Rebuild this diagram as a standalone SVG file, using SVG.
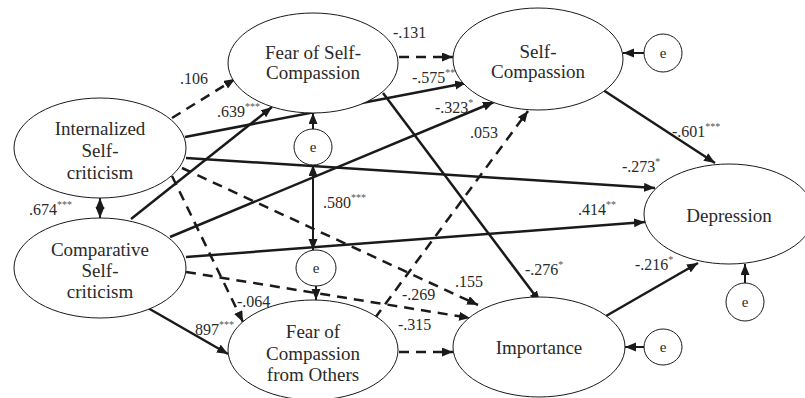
<svg xmlns="http://www.w3.org/2000/svg" width="805" height="398" viewBox="0 0 805 398">
<defs>
<marker id="ah" markerUnits="userSpaceOnUse" markerWidth="12" markerHeight="10" refX="11" refY="4.5" orient="auto-start-reverse">
<path d="M0,0 L11,4.5 L0,9 z" fill="#1a1a1a"/>
</marker>
</defs>
<style>
.node ellipse{fill:#fff;stroke:#1a1a1a;stroke-width:1}
text{font-family:'Liberation Serif',Tinos,'Times New Roman','Nimbus Roman','DejaVu Serif',serif;fill:#2a2a2a}
.nt{font-size:19px;text-anchor:middle}
.et{font-size:15px;text-anchor:middle}
.lb{font-size:16px}
.sup{font-size:10px;fill:#555}
.c line{stroke:#1a1a1a;stroke-width:2.5;marker-end:url(#ah)}
.c line.d{stroke-dasharray:10 7}
.c line.s{stroke-width:2}
</style>
<rect width="805" height="398" fill="#fff"/>
<g id="connectors" class="c">
<line class="d" x1="172" y1="118" x2="235" y2="79"/>
<line x1="185" y1="137" x2="466" y2="83"/>
<line x1="186" y1="158" x2="655" y2="188"/>
<line class="d" x1="182" y1="168" x2="478" y2="305"/>
<line class="d" x1="172" y1="176" x2="243" y2="322"/>
<line x1="131" y1="219" x2="272" y2="107"/>
<line x1="170" y1="237" x2="494" y2="102"/>
<line x1="186" y1="257" x2="645" y2="222"/>
<line class="d" x1="186" y1="272" x2="470" y2="318"/>
<line x1="148" y1="308" x2="228" y2="354"/>
<line class="d" x1="399" y1="57" x2="453" y2="57"/>
<line x1="383" y1="93" x2="540" y2="302"/>
<line class="d" x1="375" y1="318" x2="528" y2="111"/>
<line class="d" x1="399" y1="352" x2="453" y2="352"/>
<line x1="600" y1="88" x2="715" y2="163"/>
<line x1="606" y1="316" x2="698" y2="263"/>
<line class="s" x1="644" y1="53" x2="623" y2="53"/>
<line class="s" x1="313" y1="129" x2="313" y2="113"/>
<line class="s" x1="313" y1="165" x2="313" y2="250" marker-start="url(#ah)"/>
<line class="s" x1="316" y1="286" x2="316" y2="300"/>
<line class="s" x1="644" y1="347" x2="625" y2="347"/>
<line class="s" x1="745" y1="283" x2="745" y2="264"/>
<line class="s" x1="100" y1="198" x2="100" y2="218" marker-start="url(#ah)"/>
</g>
<g id="labels">
<text class="lb" x="180" y="84">.106</text>
<text class="lb" x="412" y="83">-.575<tspan class="sup" dy="-7">***</tspan></text>
<text class="lb" x="622" y="172">-.273<tspan class="sup" dy="-7">*</tspan></text>
<text class="lb" x="455" y="287">.155</text>
<text class="lb" x="237" y="307">-.064</text>
<text class="lb" x="217" y="117">.639<tspan class="sup" dy="-7">***</tspan></text>
<text class="lb" x="435" y="113">-.323<tspan class="sup" dy="-7">*</tspan></text>
<text class="lb" x="578" y="215">.414<tspan class="sup" dy="-7">**</tspan></text>
<text class="lb" x="402" y="300">-.269</text>
<text class="lb" x="195" y="335">897<tspan class="sup" dy="-7">***</tspan></text>
<text class="lb" x="393" y="38">-.131</text>
<text class="lb" x="525" y="275">-.276<tspan class="sup" dy="-7">*</tspan></text>
<text class="lb" x="470" y="138">.053</text>
<text class="lb" x="398" y="330">-.315</text>
<text class="lb" x="672" y="137">-.601<tspan class="sup" dy="-7">***</tspan></text>
<text class="lb" x="635" y="270">-.216<tspan class="sup" dy="-7">*</tspan></text>
<text class="lb" x="323" y="208">.580<tspan class="sup" dy="-7">***</tspan></text>
<text class="lb" x="29" y="215">.674<tspan class="sup" dy="-7">***</tspan></text>
</g>
<g id="internalized" class="node">
<ellipse cx="100" cy="148" rx="86" ry="50"/>
<text class="nt" x="100" y="135">Internalized</text>
<text class="nt" x="100" y="157">Self-</text>
<text class="nt" x="100" y="179">criticism</text>
</g>
<g id="comparative" class="node">
<ellipse cx="100" cy="268" rx="86" ry="50"/>
<text class="nt" x="100" y="256">Comparative</text>
<text class="nt" x="100" y="277">Self-</text>
<text class="nt" x="100" y="298">criticism</text>
</g>
<g id="fear-self" class="node">
<ellipse cx="313" cy="63" rx="85" ry="50"/>
<text class="nt" x="313" y="59">Fear of Self-</text>
<text class="nt" x="313" y="79">Compassion</text>
</g>
<g id="self-compassion" class="node">
<ellipse cx="538" cy="59" rx="85" ry="51"/>
<text class="nt" x="538" y="58">Self-</text>
<text class="nt" x="538" y="78">Compassion</text>
</g>
<g id="fear-others" class="node">
<ellipse cx="313" cy="350" rx="85" ry="50"/>
<text class="nt" x="313" y="338">Fear of</text>
<text class="nt" x="313" y="360">Compassion</text>
<text class="nt" x="313" y="381">from Others</text>
</g>
<g id="importance" class="node">
<ellipse cx="539" cy="347" rx="86" ry="50"/>
<text class="nt" x="539" y="354">Importance</text>
</g>
<g id="depression" class="node">
<ellipse cx="729" cy="214" rx="85" ry="50"/>
<text class="nt" x="729" y="222">Depression</text>
</g>
<g id="e-fear-self" class="node">
<ellipse cx="313" cy="147" rx="19" ry="18"/>
<text class="et" x="313" y="152">e</text>
</g>
<g id="e-fear-others" class="node">
<ellipse cx="316" cy="268" rx="20" ry="18"/>
<text class="et" x="316" y="273">e</text>
</g>
<g id="e-self-compassion" class="node">
<ellipse cx="663" cy="53" rx="19" ry="19"/>
<text class="et" x="663" y="58">e</text>
</g>
<g id="e-depression" class="node">
<ellipse cx="745" cy="302" rx="19" ry="19"/>
<text class="et" x="745" y="307">e</text>
</g>
<g id="e-importance" class="node">
<ellipse cx="663" cy="347" rx="19" ry="18"/>
<text class="et" x="663" y="352">e</text>
</g>
</svg>
